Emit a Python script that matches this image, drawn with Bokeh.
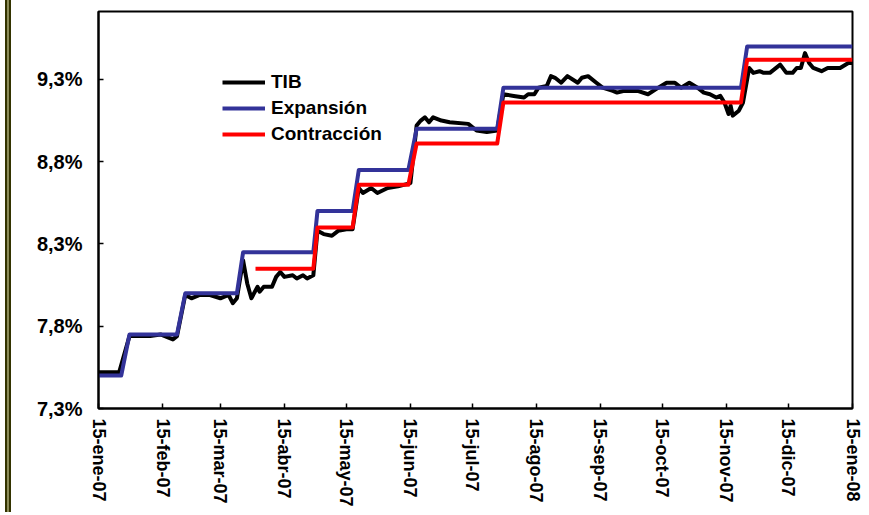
import pandas as pd
from bokeh.plotting import figure
from bokeh.layouts import row
from bokeh.models import FixedTicker, Legend, LegendItem, Range1d, Div
from bokeh.embed import file_html
from bokeh.resources import INLINE

# ---- data ----
start_date = "2007-01-15"
tick_dates = ["2007-01-15", "2007-02-15", "2007-03-15", "2007-04-15", "2007-05-15",
              "2007-06-15", "2007-07-15", "2007-08-15", "2007-09-15", "2007-10-15",
              "2007-11-15", "2007-12-15", "2008-01-15"]
tick_labels = ["15-ene-07", "15-feb-07", "15-mar-07", "15-abr-07", "15-may-07",
               "15-jun-07", "15-jul-07", "15-ago-07", "15-sep-07", "15-oct-07",
               "15-nov-07", "15-dic-07", "15-ene-08"]
y_ticks = [7.3, 7.8, 8.3, 8.8, 9.3]
y_labels = ["7,3%", "7,8%", "8,3%", "8,8%", "9,3%"]

# days since 15-ene-07
tib_day = [0, 10, 15, 25, 30, 36, 38, 42, 45, 49, 54, 59, 63, 65, 67, 70, 72, 74, 77, 78,
           80, 84, 86, 88, 90, 94, 96, 99, 101, 104, 106, 109, 113, 116, 120, 123, 126, 128,
           132, 135, 140, 145, 151, 154, 156, 158, 160, 162, 166, 170, 179, 183, 188, 193,
           196, 201, 206, 208, 211, 213, 217, 219, 221, 224, 227, 232, 234, 237, 241, 244,
           249, 251, 254, 261, 266, 271, 275, 279, 282, 286, 290, 293, 296, 299, 301, 303,
           305, 306, 307, 310, 312, 315, 317, 320, 322, 325, 330, 333, 336, 338, 340, 342,
           344, 346, 350, 353, 356, 359, 363, 365]
tib_val = [7.52, 7.52, 7.74, 7.74, 7.75, 7.72, 7.74, 7.99, 7.97, 7.99, 7.99, 7.97, 7.99,
           7.94, 7.97, 8.20, 8.06, 7.97, 8.04, 8.01, 8.04, 8.04, 8.10, 8.13, 8.10, 8.11,
           8.09, 8.11, 8.09, 8.11, 8.38, 8.36, 8.35, 8.38, 8.39, 8.39, 8.64, 8.61, 8.64,
           8.61, 8.64, 8.65, 8.67, 9.02, 9.05, 9.07, 9.04, 9.07, 9.05, 9.04, 9.03, 8.99,
           8.98, 8.99, 9.21, 9.20, 9.19, 9.21, 9.21, 9.25, 9.26, 9.32, 9.31, 9.28, 9.32,
           9.28, 9.31, 9.32, 9.28, 9.25, 9.23, 9.22, 9.23, 9.23, 9.21, 9.25, 9.28, 9.28,
           9.25, 9.28, 9.25, 9.22, 9.21, 9.19, 9.20, 9.16, 9.09, 9.14, 9.08, 9.11, 9.16,
           9.37, 9.34, 9.35, 9.34, 9.34, 9.39, 9.34, 9.34, 9.37, 9.37, 9.46, 9.40, 9.37,
           9.35, 9.37, 9.37, 9.37, 9.40, 9.40]

exp_day = [0, 11, 15, 38, 42, 67, 70, 104, 106, 123, 126, 150, 154, 193, 196, 311, 314, 365]
exp_val = [7.50, 7.50, 7.75, 7.75, 8.00, 8.00, 8.25, 8.25, 8.50, 8.50, 8.75, 8.75, 9.00,
           9.00, 9.25, 9.25, 9.50, 9.50]

con_day = [76, 104, 106, 123, 126, 150, 154, 193, 196, 311, 314, 365]
con_val = [8.15, 8.15, 8.40, 8.40, 8.66, 8.66, 8.91, 8.91, 9.16, 9.16, 9.42, 9.42]

# ---- figure ----
t0 = pd.Timestamp(start_date)
tick_pos = [int((pd.Timestamp(d) - t0).days) for d in tick_dates]

BORDER_W = 11
p = figure(width=866 - BORDER_W, height=512, output_backend="svg", toolbar_location=None,
           x_range=Range1d(0, tick_pos[-1]), y_range=Range1d(7.3, 9.713),
           min_border_left=98 - BORDER_W, min_border_right=14,
           min_border_top=11, min_border_bottom=104, margin=0)
p.grid.visible = False
p.background_fill_color = "white"
p.border_fill_color = "white"
p.outline_line_color = "black"
p.outline_line_width = 2

font = "Liberation Sans"

p.xaxis.ticker = FixedTicker(ticks=tick_pos)
p.xaxis.major_label_overrides = {tp: lab for tp, lab in zip(tick_pos, tick_labels)}
p.xaxis.major_label_orientation = "vertical"
p.yaxis.ticker = FixedTicker(ticks=y_ticks)
p.yaxis.major_label_overrides = {t: lab for t, lab in zip(y_ticks, y_labels)}

for ax in (p.xaxis, p.yaxis):
    ax.axis_line_color = "black"
    ax.axis_line_width = 2
    ax.major_tick_line_color = "black"
    ax.major_tick_line_width = 1.5
    ax.major_tick_in = 5
    ax.major_tick_out = 0
    ax.minor_tick_line_color = None
    ax.major_label_text_font = font
    ax.major_label_text_font_style = "bold"
    ax.major_label_text_color = "black"
p.xaxis.major_label_text_font_size = "18px"
p.yaxis.major_label_text_font_size = "20px"
p.xaxis.major_label_standoff = 10
p.yaxis.major_label_standoff = 16

r_tib = p.line(tib_day, tib_val, line_color="black", line_width=4, line_join="round")
r_exp = p.line(exp_day, exp_val, line_color="#333399", line_width=4, line_join="round")
r_con = p.line(con_day, con_val, line_color="#FF0000", line_width=4, line_join="round")

legend = Legend(items=[LegendItem(label="TIB", renderers=[r_tib]),
                       LegendItem(label="Expansión", renderers=[r_exp]),
                       LegendItem(label="Contracción", renderers=[r_con])],
                location=(124, 263), orientation="vertical",
                glyph_width=43, glyph_height=20, label_height=20, spacing=4,
                label_standoff=6, padding=0, margin=0,
                label_text_font=font, label_text_font_style="bold",
                label_text_font_size="19px", label_text_color="black",
                border_line_color=None, background_fill_alpha=0)
p.add_layout(legend)

# left page border (olive double line)
border = Div(text="", width=BORDER_W, height=512, margin=0,
             styles={"background": "linear-gradient(to right, #ffffff 0px, #ffffff 5px, "
                                   "#333300 5px, #333300 7px, #8c8c5a 7px, #8c8c5a 9px, "
                                   "#333300 9px, #333300 11px)"})

layout = row(border, p, spacing=0, margin=0)
open("out.html", "w").write(file_html(layout, INLINE))
